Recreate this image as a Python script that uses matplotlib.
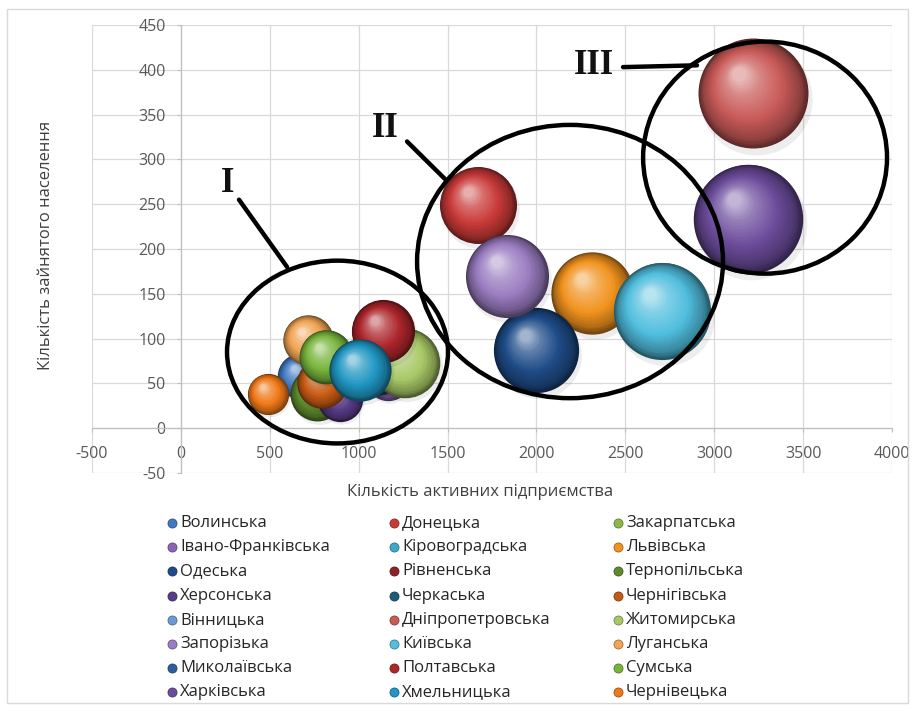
import numpy as np
import matplotlib
matplotlib.use("Agg")
import matplotlib.pyplot as plt
from matplotlib.patches import Ellipse, Rectangle
from matplotlib.lines import Line2D
import matplotlib.transforms as mtransforms
from matplotlib.colors import to_rgb

plt.rcParams['font.family'] = ['Open Sans', 'DejaVu Sans']

# ---- data (series order as in the legend, row by row) ----
regions = ["Волинська", "Донецька", "Закарпатська",
           "Івано-Франківська", "Кіровоградська", "Львівська",
           "Одеська", "Рівненська", "Тернопільська",
           "Херсонська", "Черкаська", "Чернігівська",
           "Вінницька", "Дніпропетровська", "Житомирська",
           "Запорізька", "Київська", "Луганська",
           "Миколаївська", "Полтавська", "Сумська",
           "Харківська", "Хмельницька", "Чернівецька"]
enterprises = [670, 1671, 894,
               1165, 1035, 2313,
               1997, 1148, 765,
               895, 1109, 794,
               771, 3218, 1260,
               1834, 2706, 715,
               923, 1136, 816,
               3190, 1007, 490]
employed = [58, 249, 76,
            56, 69, 151,
            87, 103, 38,
            33, 65, 50,
            89, 374, 73,
            170, 131, 98,
            65, 108, 80,
            234, 65, 38]
bubble_size = [17, 49, 13,
               17, 16, 56,
               60, 19, 24,
               17, 21, 21,
               11, 100, 40,
               57, 78, 21,
               11, 33, 24,
               99, 32, 14]
colors = ["#3F78C0", "#C83A38", "#8DB848",
          "#8A64B4", "#3FA8C8", "#F0921E",
          "#1F4C88", "#8A2226", "#5E8A2E",
          "#5A3C8A", "#1C5C78", "#C65A14",
          "#6E9AD2", "#C85A58", "#A8C866",
          "#9A7CC0", "#50BEDE", "#F0A454",
          "#2E5E9E", "#AC262C", "#78B43C",
          "#6C4C9C", "#2096C2", "#F07818"]

xticks = list(range(-500, 4001, 500))
yticks = list(range(-50, 451, 50))
x_title = "Кількість активних підприємства"
y_title = "Кількість зайнятого населення"

# cluster annotations (data coordinates)
cluster_labels = ["I", "II", "III"]
cluster_centers = [(881, 85), (2189, 186), (3286, 302)]
cluster_widths = [1243, 1721, 1372]
cluster_heights = [204, 305, 259]
label_pos = [(265, 273), (1148, 335), (2323, 405)]
leader_start = [(327, 255), (1272, 320), (2487, 403)]
leader_end = [(597, 180), (1486, 278), (2903, 405)]

# ---- figure ----
W, H, DPI = 916, 711, 100
fig = plt.figure(figsize=(W / DPI, H / DPI), dpi=DPI)
fig.patch.set_facecolor("white")
fig.add_artist(Rectangle((7 / W, 1 - 703 / H), 901 / W, 694 / H,
                         transform=fig.transFigure, fill=False,
                         edgecolor="#D9D9D9", lw=1.0))

ax_px = (92, 25, 800, 448)  # left, top, width, height in pixels
ax = fig.add_axes([ax_px[0] / W, 1 - (ax_px[1] + ax_px[3]) / H,
                   ax_px[2] / W, ax_px[3] / H])
ax.set_xlim(-500, 4000)
ax.set_ylim(-50, 450)
ax.set_xticks(xticks)
ax.set_yticks(yticks)
ax.set_xticklabels([str(v) for v in xticks])
ax.set_yticklabels([str(v) for v in yticks])
ax.set_axisbelow(True)
ax.grid(True, color="#D9D9D9", lw=0.9)
for s in ["top", "right"]:
    ax.spines[s].set_visible(False)
ax.spines["left"].set_position(("data", 0))
ax.spines["bottom"].set_position(("data", 0))
for s in ["left", "bottom"]:
    ax.spines[s].set_color("#BFBFBF")
    ax.spines[s].set_linewidth(0.9)
ax.tick_params(axis="both", length=3, color="#BFBFBF", labelsize=11.5,
               labelcolor="#595959")
ax.tick_params(axis="x", pad=10)
ax.tick_params(axis="y", pad=8)

fig.text(480 / W, 1 - 492 / H, x_title, ha="center", va="center",
         fontsize=12, color="#404040")
fig.text(46 / W, 1 - 245 / H, y_title, ha="center", va="center",
         rotation=90, fontsize=12, color="#404040")

# ---- 3D-looking bubbles ----
dmax_px = 0.2455 * ax_px[3]          # largest bubble diameter (Excel-like scale)
smax = max(bubble_size)


def shade(rgb, t):
    rgb = np.array(rgb)
    ts = [0.0, 0.12, 0.4, 0.75, 1.0]
    cols = [rgb * 0.45, rgb * 0.72, rgb, rgb + 0.28 * (1 - rgb), rgb + 0.62 * (1 - rgb)]
    return tuple(float(np.interp(t, ts, [c[i] for c in cols])) for i in range(3))


N = 40
for i in range(len(regions)):
    d_px = dmax_px * np.sqrt(bubble_size[i] / smax)
    R_pt = d_px * 72 / DPI / 2
    base = to_rgb(colors[i])
    # soft shadow
    tr_sh = mtransforms.offset_copy(ax.transData, fig=fig, x=R_pt * 0.06,
                                    y=-R_pt * 0.10, units="points")
    ax.scatter([enterprises[i]], [employed[i]], s=(2 * R_pt * 1.02) ** 2,
               color="#000000", alpha=0.07, lw=0, transform=tr_sh,
               zorder=3 + i * 0.1)
    for k in range(N):
        t = k / N
        r = R_pt * (1 - t * 0.9)
        dx, dy = -0.26 * R_pt * t, 0.36 * R_pt * t
        tr = mtransforms.offset_copy(ax.transData, fig=fig, x=dx, y=dy,
                                     units="points")
        ax.scatter([enterprises[i]], [employed[i]], s=(2 * r) ** 2,
                   color=shade(base, t), lw=0, transform=tr,
                   zorder=3 + i * 0.1 + 0.001 * (k + 1))

# ---- cluster ellipses and labels ----
for lab, c, w, h, lp, ls, le in zip(cluster_labels, cluster_centers,
                                    cluster_widths, cluster_heights,
                                    label_pos, leader_start, leader_end):
    ax.add_patch(Ellipse(c, w, h, fill=False, edgecolor="black", lw=3.2,
                         zorder=20))
    ax.plot([ls[0], le[0]], [ls[1], le[1]], color="black", lw=3.2,
            solid_capstyle="round", zorder=20)
    ax.text(lp[0], lp[1], lab, ha="center", va="center", fontsize=25,
            fontweight="bold", family=["Liberation Serif", "DejaVu Serif"],
            color="#111111", zorder=21)

# ---- legend (3 columns, row-major like Excel) ----
col_x = [172, 394, 618]
row_y0, row_dy = 523, 24.2
for i, name in enumerate(regions):
    r, c = divmod(i, 3)
    xm, ym = col_x[c] / W, 1 - (row_y0 + r * row_dy) / H
    fig.add_artist(Line2D([xm], [ym], marker="o", markersize=6.5,
                          markerfacecolor=colors[i],
                          markeredgecolor=shade(to_rgb(colors[i]), 0.1),
                          markeredgewidth=0.6, linestyle="none",
                          transform=fig.transFigure))
    fig.text(xm + 8 / W, ym, name, ha="left", va="center", fontsize=12,
             color="#262626")

fig.savefig("out.png", dpi=DPI, facecolor="white")
